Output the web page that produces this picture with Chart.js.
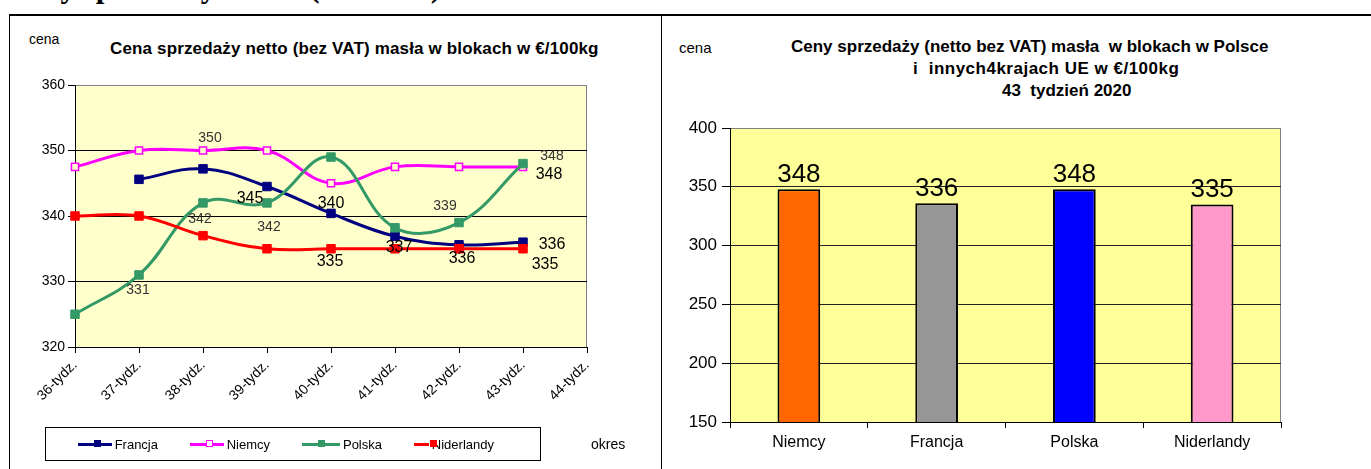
<!DOCTYPE html>
<html>
<head>
<meta charset="utf-8">
<script src="https://cdn.jsdelivr.net/npm/chart.js@4.4.0/dist/chart.umd.min.js"></script>
<style>
  body {
    margin: 0;
    width: 1371px;
    height: 469px;
    background: #fff;
    overflow: hidden;
    position: relative;
    font-family: 'Liberation Sans', Arial, sans-serif;
  }
  .abs { position: absolute; white-space: pre; color: #000; }
  .header {
    font-family: 'Liberation Serif', 'Times New Roman', serif;
    font-weight: bold;
    font-size: 31px;
    line-height: 31px;
    left: 7px;
    top: -29px;
  }
  .hline { position: absolute; left: 9px; right: 0; top: 14px; border-top: 2px solid #000; }
  .vline { position: absolute; top: 14px; bottom: 0; border-left: 1px solid #000; }
  canvas { position: absolute; }
  .title { font-weight: bold; font-size: 17px; }
  .legend {
    position: absolute;
    left: 45px;
    top: 427px;
    width: 494px;
    height: 32px;
    border: 1px solid #000;
    display: flex;
    align-items: center;
  }
  .legend .item { width: 112px; padding-left: 32px; box-sizing: border-box; display: flex; align-items: center; font-size: 13px; }
  .legend .sample { position: relative; width: 40px; height: 3px; margin-right: 3px; }
  .legend .mark { position: absolute; left: 16px; top: -3px; width: 7px; height: 7px; box-sizing: border-box; }
</style>
</head>
<body>
<div class="abs header">Ceny sprzedaży masła (bez VAT)</div>
<div class="hline"></div>
<div class="vline" style="left:9px"></div>
<div class="vline" style="left:661px"></div>

<div class="abs" style="left:29px; top:31px; font-size:14px;">cena</div>
<div class="abs title" style="left:110px; top:39px; letter-spacing:0.15px;">Cena sprzedaży netto (bez VAT) masła w blokach w €/100kg</div>
<canvas id="lineChart" width="650" height="454" style="left:10px; top:15px;"></canvas>
<div class="legend js-legend"></div>
<div class="abs" style="left:591px; top:436px; font-size:14px;">okres</div>

<div class="abs" style="left:679px; top:39px; font-size:15px;">cena</div>
<div class="abs title" style="left:791px; top:37px;">Ceny sprzedaży (netto bez VAT) masła  w blokach w Polsce</div>
<div class="abs title" style="left:913px; top:59px; letter-spacing:0.5px;">i  innych4krajach UE w €/100kg</div>
<div class="abs title" style="left:1002px; top:81px;">43  tydzień 2020</div>
<canvas id="barChart" width="709" height="454" style="left:662px; top:15px;"></canvas>

<script>
// left chart: weekly prices
const weeks = ['36-tydz.', '37-tydz.', '38-tydz.', '39-tydz.', '40-tydz.', '41-tydz.', '42-tydz.', '43-tydz.', '44-tydz.'];
const seriesNames = ['Francja', 'Niemcy', 'Polska', 'Niderlandy'];
const francja = [null, 345.6, 347.2, 344.5, 340.4, 336.9, 335.6, 336, null];
const niemcy = [347.5, 350, 350, 350, 345, 347.5, 347.5, 347.5, null];
const polska = [325, 331, 342, 342, 349, 338.2, 339, 348, null];
const niderlandy = [340, 340, 337, 335, 335, 335, 335, 335, null];
const lineTicks = [320, 330, 340, 350, 360];

// right chart: week 43
const countries = ['Niemcy', 'Francja', 'Polska', 'Niderlandy'];
const week43 = [348, 336, 348, 335];
const barTicks = [150, 200, 250, 300, 350, 400];

const lineColors = ['#000080', '#FF00FF', '#339966', '#FF0000'];
const barColors = ['#FF6600', '#969696', '#0000FF', '#FF99CC'];
const font = "'Liberation Sans', Arial, sans-serif";

// which points get a value label: [dataset, point, dx, dy, big]
const labelOffsets = [
  [1, 2, 7, -12, false],
  [2, 1, -1, 15, false],
  [2, 2, -3, 16, false],
  [0, 3, -17, 12, true],
  [2, 3, 2, 24, false],
  [0, 4, 0, -10, true],
  [3, 4, -1, 13, true],
  [0, 5, 4, 11, true],
  [2, 6, -14, -16, false],
  [0, 6, 3, 14, true],
  [2, 7, 29, -7, false],
  [1, 7, 26, 8, true],
  [0, 7, 29, 2, true],
  [3, 7, 22, 16, true],
];

const plotBackground = {
  id: 'plotBackground',
  beforeDraw(chart, args, opts) {
    const a = chart.chartArea;
    const ctx = chart.ctx;
    ctx.save();
    ctx.fillStyle = opts.color;
    ctx.fillRect(a.left, a.top, a.right - a.left, a.bottom - a.top);
    ctx.strokeStyle = '#808080';
    ctx.lineWidth = 1;
    ctx.beginPath();
    ctx.moveTo(a.right - 0.5, a.top);
    ctx.lineTo(a.right - 0.5, a.bottom);
    ctx.stroke();
    ctx.restore();
  },
};

const pointLabels = {
  id: 'pointLabels',
  afterDatasetsDraw(chart) {
    const ctx = chart.ctx;
    ctx.save();
    ctx.textAlign = 'center';
    ctx.textBaseline = 'middle';
    for (let [ds, i, dx, dy, big] of labelOffsets) {
      const pt = chart.getDatasetMeta(ds).data[i];
      const value = chart.data.datasets[ds].data[i];
      ctx.font = (big ? 16 : 14) + 'px ' + font;
      ctx.fillStyle = big ? '#000' : '#333';
      ctx.fillText(Math.round(value), pt.x + dx, pt.y + dy);
    }
    ctx.restore();
  },
};

const barLabels = {
  id: 'barLabels',
  afterDatasetsDraw(chart) {
    const ctx = chart.ctx;
    const meta = chart.getDatasetMeta(0);
    ctx.save();
    ctx.textAlign = 'center';
    ctx.textBaseline = 'alphabetic';
    ctx.font = '26px ' + font;
    ctx.fillStyle = '#000';
    meta.data.forEach((bar, i) => {
      ctx.fillText(chart.data.datasets[0].data[i], bar.x, bar.y - 7);
    });
    ctx.restore();
  },
};

const createLineChart = function () {
  const series = [francja, niemcy, polska, niderlandy];
  const datasets = series.map((values, i) => ({
    label: seriesNames[i],
    data: values,
    borderColor: lineColors[i],
    backgroundColor: lineColors[i],
    borderWidth: 3,
    tension: 0.4,
    pointStyle: 'rect',
    pointRadius: i == 1 ? 5 : 6,
    pointBorderWidth: i == 1 ? 1.5 : 1,
    pointBackgroundColor: i == 1 ? '#FFFFCC' : lineColors[i],
    pointBorderColor: lineColors[i],
    order: 4 - i,
    clip: false,
  }));
  new Chart(document.querySelector('#lineChart'), {
    type: 'line',
    data: { labels: weeks, datasets: datasets },
    plugins: [plotBackground, pointLabels],
    options: {
      responsive: false,
      animation: false,
      layout: { padding: { left: 15, right: 73, top: 70, bottom: 62 } },
      plugins: {
        legend: { display: false },
        tooltip: { enabled: false },
        plotBackground: { color: '#FFFFCC' },
      },
      scales: {
        x: {
          offset: false,
          afterFit: (scale) => { scale.height = 60; },
          grid: { offset: false, drawOnChartArea: false, color: '#000', tickLength: 6 },
          border: { color: '#000' },
          ticks: { maxRotation: 45, minRotation: 45, padding: 4, color: '#000', font: { size: 14, family: font } },
        },
        y: {
          min: lineTicks[0],
          max: lineTicks[lineTicks.length - 1],
          afterFit: (scale) => { scale.width = 50; },
          afterBuildTicks: (scale) => { scale.ticks = lineTicks.map((v) => ({ value: v })); },
          grid: {
            color: (c) => (c.tick && c.tick.value == 360 ? '#808080' : '#000'),
            tickColor: '#000',
            tickLength: 7,
          },
          border: { color: '#000' },
          ticks: { padding: 3, color: '#000', font: { size: 14, family: font } },
        },
      },
    },
  });
};

const createBarChart = function () {
  new Chart(document.querySelector('#barChart'), {
    type: 'bar',
    data: {
      labels: countries,
      datasets: [
        {
          data: week43,
          backgroundColor: barColors,
          borderColor: '#000',
          borderWidth: 2,
          borderSkipped: false,
          categoryPercentage: 1,
          barPercentage: 0.31,
        },
      ],
    },
    plugins: [plotBackground, barLabels],
    options: {
      responsive: false,
      animation: false,
      layout: { padding: { left: 18, right: 90, top: 113, bottom: 13 } },
      plugins: {
        legend: { display: false },
        tooltip: { enabled: false },
        plotBackground: { color: '#FFFF99' },
      },
      scales: {
        x: {
          afterFit: (scale) => { scale.height = 34; },
          grid: { drawOnChartArea: false, color: '#000', tickLength: 6 },
          border: { color: '#000' },
          ticks: { padding: 5, color: '#000', font: { size: 16, family: font } },
        },
        y: {
          min: barTicks[0],
          max: barTicks[barTicks.length - 1],
          afterFit: (scale) => { scale.width = 50; },
          afterBuildTicks: (scale) => { scale.ticks = barTicks.map((v) => ({ value: v })); },
          grid: {
            color: (c) => (c.tick && c.tick.value == 400 ? '#808080' : '#222'),
            tickColor: '#000',
            tickLength: 8,
          },
          border: { color: '#000' },
          ticks: { padding: 5, color: '#000', font: { size: 17, family: font } },
        },
      },
    },
  });
};

const createLegend = function () {
  const legend = document.querySelector('.js-legend');
  seriesNames.forEach((name, i) => {
    const hollow = i == 1;
    legend.innerHTML += `<div class="item"><span class="sample" style="background:${lineColors[i]}"><span class="mark" style="background:${hollow ? '#fff' : lineColors[i]};border:${hollow ? 1.5 : 0}px solid ${lineColors[i]}"></span></span>${name}</div>`;
  });
};

const init = function () {
  createLineChart();
  createBarChart();
  createLegend();
};
document.addEventListener('DOMContentLoaded', init);
</script>
</body>
</html>
